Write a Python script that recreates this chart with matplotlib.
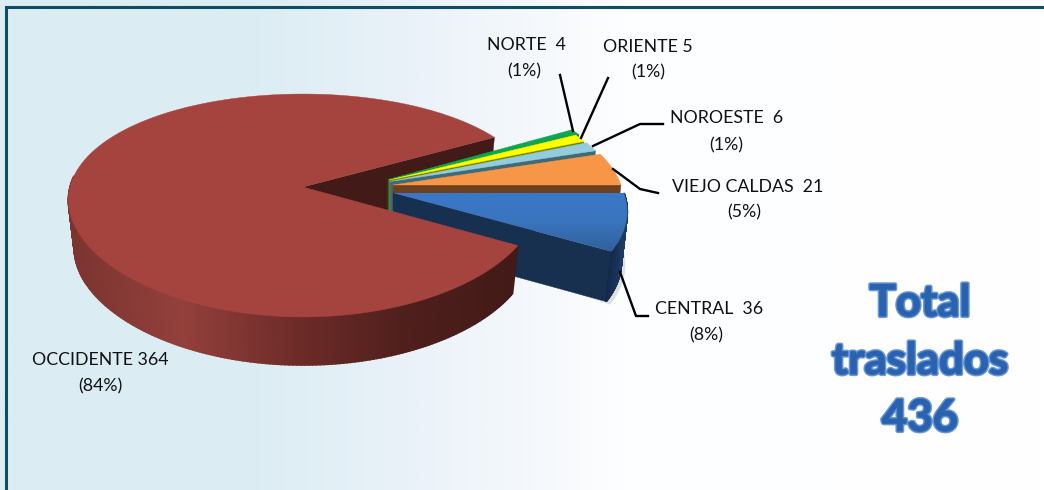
import numpy as np
import matplotlib
matplotlib.use("Agg")
import matplotlib.pyplot as plt
import matplotlib.patheffects as pe
from matplotlib.colors import LinearSegmentedColormap

names = ["CENTRAL", "OCCIDENTE", "NORTE", "ORIENTE", "NOROESTE", "VIEJO CALDAS"]
values = [36, 364, 4, 5, 6, 21]
percent_labels = ["(8%)", "(84%)", "(1%)", "(1%)", "(1%)", "(5%)"]
total_label = "Total\ntraslados\n436"

top_colors = ["#3a75c2", "#a5433f", "#0ea650", "#ffff00", "#93cddd", "#f79646"]
wall_colors = ["#152d4c", "#421a17", "#0a6a32", "#7f7f00", "#3f6a78", "#6e4020"]
apex_x = [393, 303, 388, 389, 390, 393]
apex_y = [193, 187, 179.5, 180, 181.5, 185]
radius_x = [231, 233, 229, 224, 226, 228]
x_power = [1, 0.7, 1, 1, 1, 1]
depths = [50, 48, 46, 46, 46, 46]

RY, P = 108.4, 0.166
W, H = 1044, 490
plt.rcParams["font.family"] = ["Lato", "DejaVu Sans"]

fig = plt.figure(figsize=(W / 100, H / 100), dpi=100)
ax = fig.add_axes([0, 0, 1, 1])

bg = LinearSegmentedColormap.from_list(
    "bg", [(0, "#dbedf3"), (0.24, "#dbedf3"), (0.40, "#ebf2f9"), (0.60, "#fdfeff"), (1, "#ffffff")])
ax.imshow(np.linspace(0, 1, 512)[None, :], cmap=bg, extent=(0, W, H, 0), aspect="auto", zorder=0)
ax.plot([6, 6, W], [H, 7, 7], color="#0f4c68", lw=2.2, zorder=1, solid_joinstyle="miter")

edges = np.concatenate([[0], np.cumsum(values)]) / np.sum(values) * 360
theta1 = -edges[:-1]
theta2 = -edges[1:]


def project(i, t_deg):
    t = np.radians(t_deg)
    u, v = np.cos(t), np.sin(t)
    w = 1 + P * v
    return apex_x[i] + radius_x[i] * u / w ** x_power[i], apex_y[i] - RY * v / w


def lower(i, x, y):
    return apex_x[i] + (x - apex_x[i]) * 0.975, y + depths[i]


def top_outline(i):
    ts = np.linspace(theta1[i], theta2[i], 240)
    x, y = project(i, ts)
    return np.r_[apex_x[i], x], np.r_[apex_y[i], y]


def cut_wall(i, t, color, z):
    x, y = project(i, t)
    bx, by = lower(i, x, y)
    ax.fill([apex_x[i], x, bx, apex_x[i]], [apex_y[i], y, by, apex_y[i] + depths[i]],
            color=color, lw=0.3, zorder=z)


def outer_wall(i, t_from, t_to, stops, z):
    ts = np.linspace(t_from, t_to, 181)
    x, y = project(i, ts)
    bx, by = lower(i, x, y)
    lo, hi = x.min(), x.max()
    cmap = LinearSegmentedColormap.from_list("w", stops)
    for k in range(len(ts) - 1):
        c = cmap(((x[k] + x[k + 1]) / 2 - lo) / (hi - lo))
        ax.fill([x[k], x[k + 1], bx[k + 1], bx[k]], [y[k], y[k + 1], by[k + 1], by[k]],
                color=c, lw=1.2, zorder=z)


OCC, CEN = 1, 0
# back cut wall of the largest slice
cut_wall(OCC, theta2[OCC], wall_colors[OCC], 2)

# thin slices, back to front
for z, i in zip([3, 4, 5, 6], [2, 3, 4, 5]):
    cut_wall(i, theta2[i], wall_colors[i], z)
    xs, ys = top_outline(i)
    ax.fill(xs, ys, color=top_colors[i], lw=0.3, zorder=z + 0.1)

# central slice
x_c, y_c = project(CEN, np.linspace(theta1[CEN], theta2[CEN], 60))
bx_c, by_c = lower(CEN, x_c, y_c)
ax.fill(np.r_[bx_c + 4, apex_x[CEN] + 120], np.r_[by_c + 3, apex_y[CEN] + 80],
        color="#8a8a8a", alpha=0.25, lw=0, zorder=6.5)
cut_wall(CEN, theta2[CEN], "#17304f", 7)
outer_wall(CEN, theta2[CEN], theta1[CEN], ["#12294a", "#1c3a62"], 7.1)
xs, ys = top_outline(CEN)
poly = ax.fill(xs, ys, color="none", lw=0, zorder=7.3)[0]
blue = LinearSegmentedColormap.from_list("b", ["#3a78c8", "#3a74bd", "#30609a"])
im = ax.imshow(np.linspace(0, 1, 128)[:, None], cmap=blue, aspect="auto",
               extent=(xs.min(), xs.max(), ys.max(), ys.min()), zorder=7.2)
im.set_clip_path(poly)

# large slice: visible outer wall, then top face
outer_wall(OCC, theta1[OCC], -186,
           ["#7c3430", "#93403b", "#6e2c29", "#4f1f1c", "#421a17"], 8)
xs, ys = top_outline(OCC)
ax.fill(xs, ys, color=top_colors[OCC], lw=0.3, zorder=8.5)

# leader lines
leaders = [([648, 636, 620], [316, 316, 272]),
           ([560, 573], [75, 131]),
           ([608, 581], [78, 138]),
           ([663, 640, 593], [124, 124, 146]),
           ([658, 640, 613], [193, 189, 169])]
for lx, ly in leaders:
    ax.plot(lx, ly, color="black", lw=1.7, zorder=9)

label_fs = 12.8
label_pos = [(709, 309, 706, 335), (100, 360, 100, 386), (526, 45, 524, 71),
             (648, 47, 648, 72), (727, 118, 726, 145), (748, 187, 744, 212)]
spacers = ["  ", " ", "  ", " ", "  ", "  "]
for n, v, p, sp, (x1, y1, x2, y2) in zip(names, values, percent_labels, spacers, label_pos):
    ax.text(x1, y1, f"{n}{sp}{v}", ha="center", va="center", fontsize=label_fs, color="#111111", zorder=10)
    ax.text(x2, y2, p, ha="center", va="center", fontsize=label_fs, color="#111111", zorder=10)

for line, y in zip(total_label.split("\n"), [303, 361, 418]):
    ax.text(920, y, line, ha="center", va="center", fontsize=31.5, fontweight="bold", color="#2a62ad", zorder=10,
            path_effects=[pe.withStroke(linewidth=3.0, foreground="#6b98d8"),
                          pe.withStroke(linewidth=1.2, foreground="#3f74bf"),
                          pe.Normal()])

ax.set_xlim(0, W)
ax.set_ylim(H, 0)
ax.axis("off")
fig.savefig("out.png", dpi=100)
